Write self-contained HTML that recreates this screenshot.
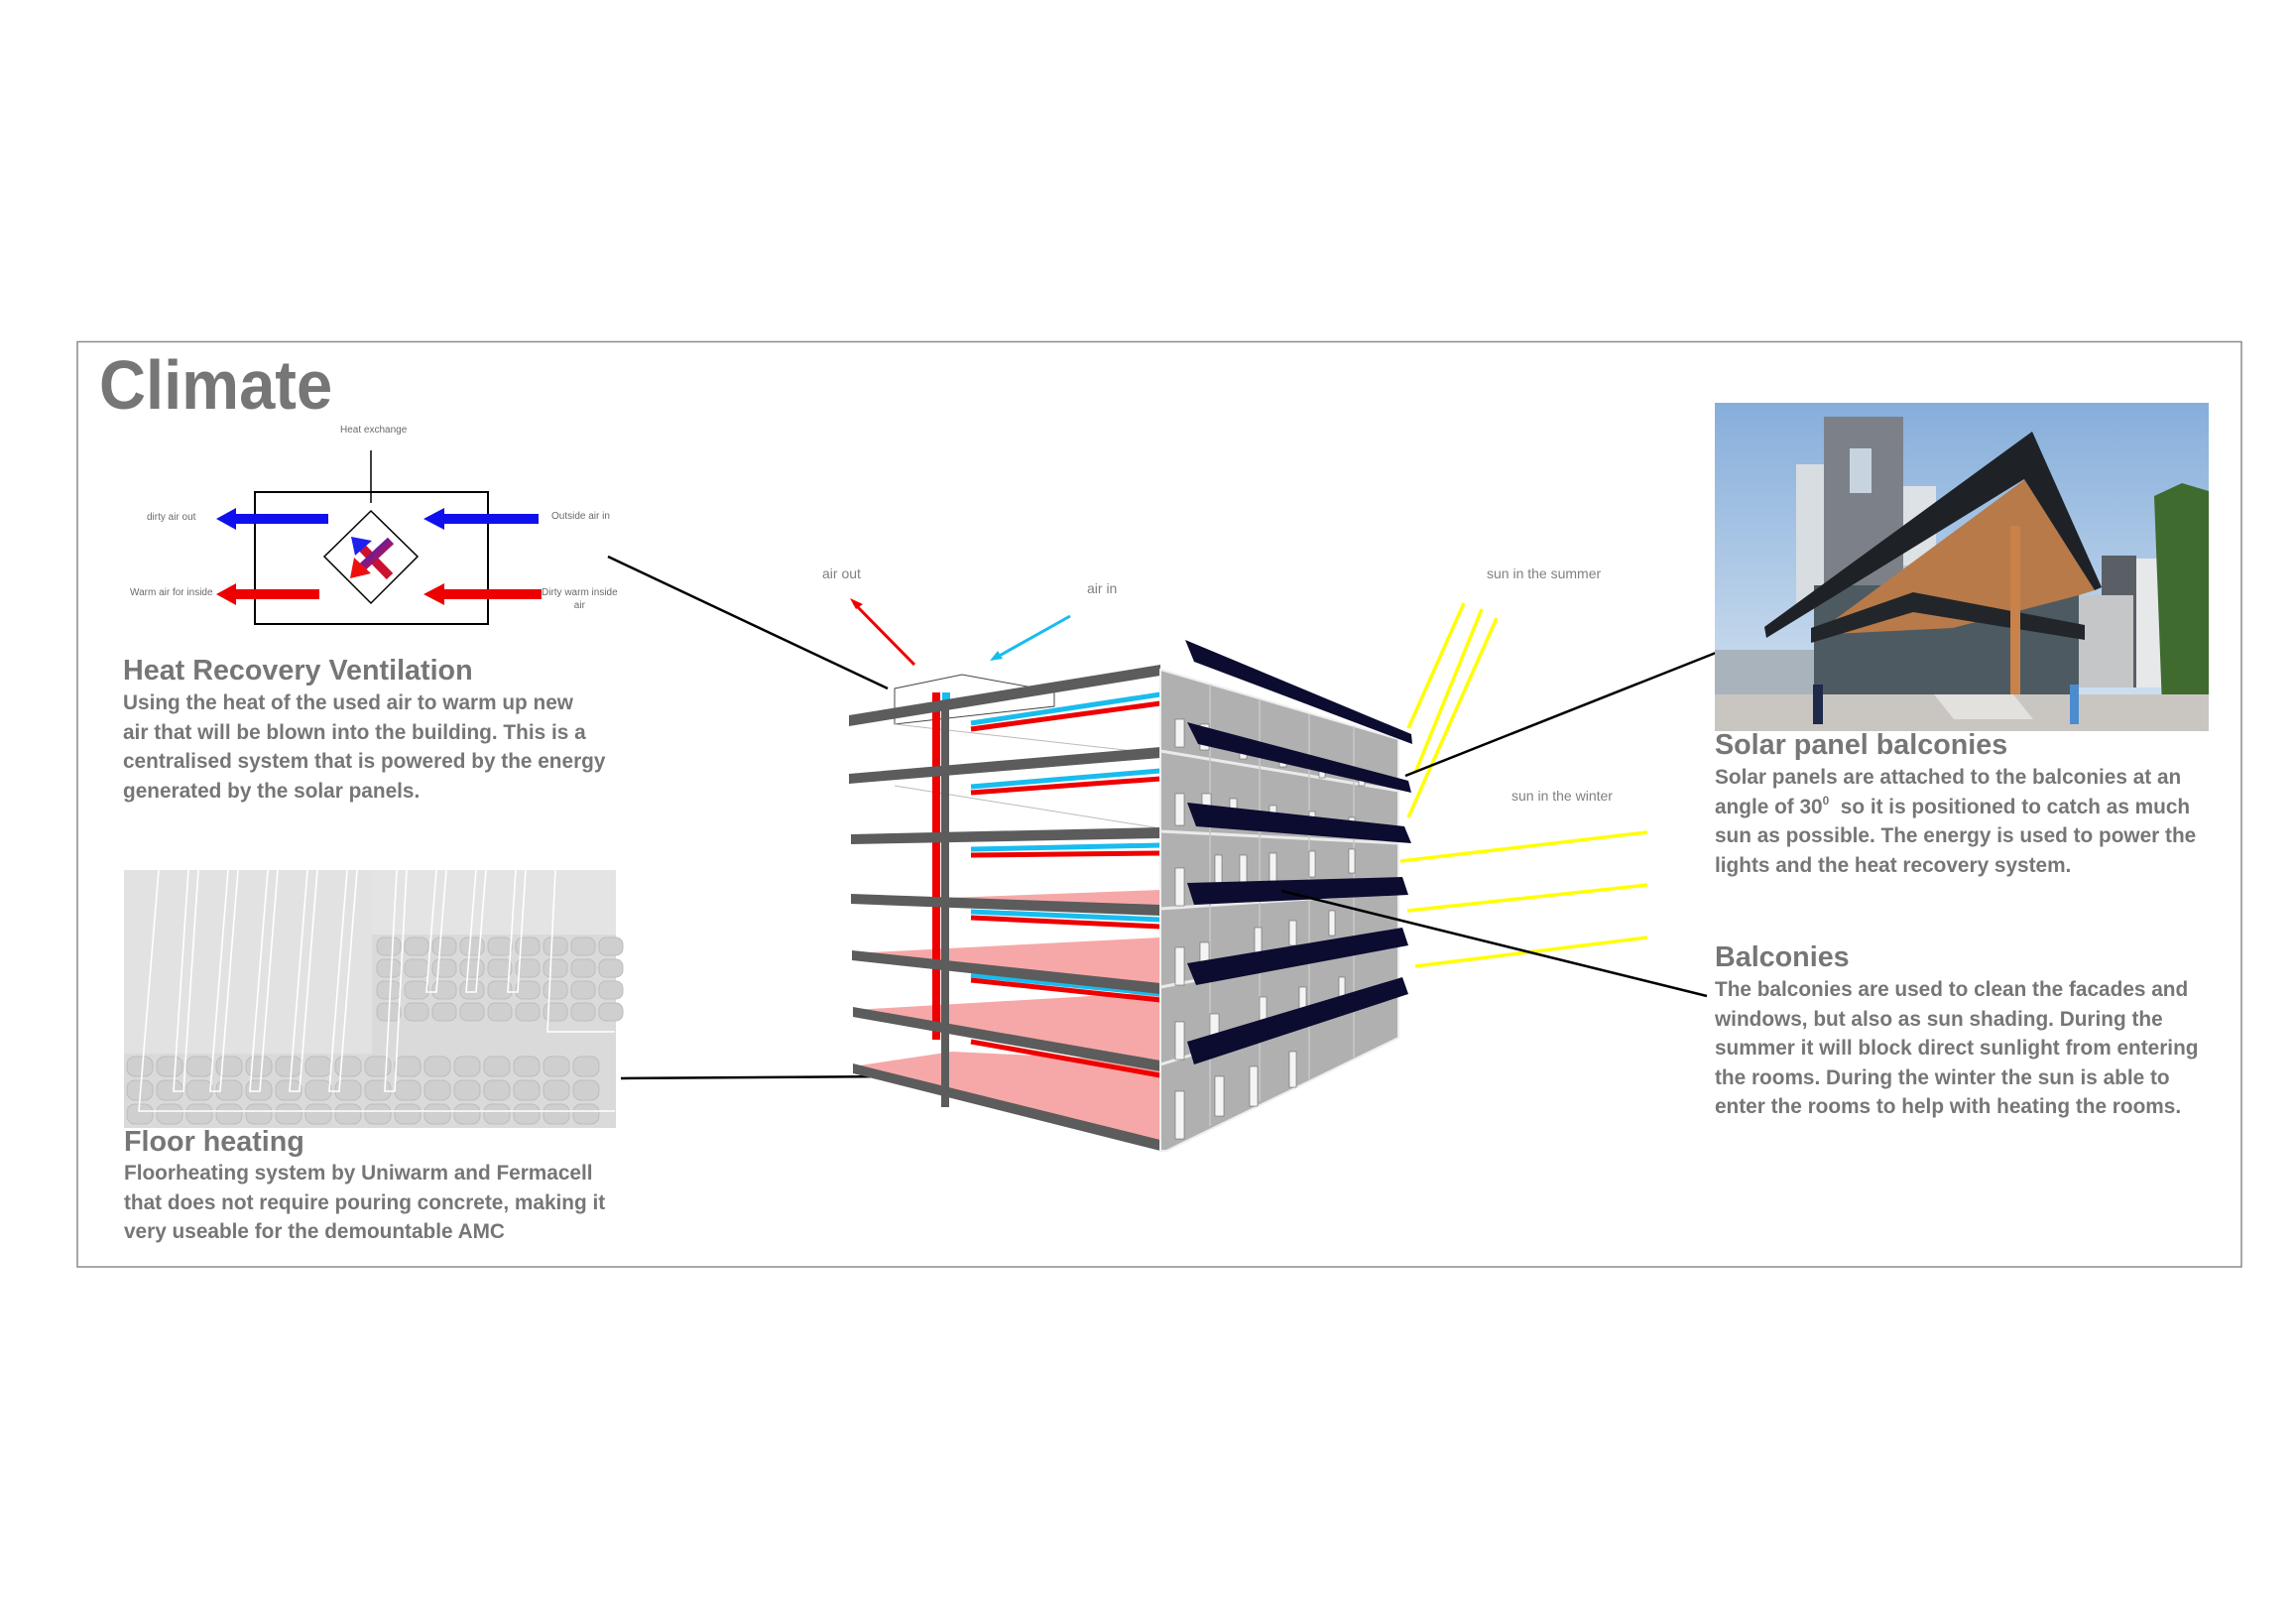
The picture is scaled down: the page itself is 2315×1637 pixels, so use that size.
<!DOCTYPE html>
<html><head><meta charset="utf-8"><style>
html,body{margin:0;padding:0;background:#fff;}
body{width:2315px;height:1637px;position:relative;overflow:hidden;font-family:"Liberation Sans",sans-serif;}
.t{position:absolute;color:#767676;font-weight:bold;white-space:nowrap;transform-origin:0 0;transform:scaleX(0.99);}
.h{font-size:29px;line-height:30px;}
.b{font-size:21px;line-height:29.6px;}
.s{position:absolute;color:#6a6a6a;font-size:10px;white-space:nowrap;}
.g{position:absolute;color:#808080;font-size:14px;white-space:nowrap;}
sup{font-size:12px;line-height:0;vertical-align:9px;}
</style></head><body>
<svg width="2315" height="1637" style="position:absolute;left:0;top:0">
<defs>
<linearGradient id="sky" x1="0" y1="0" x2="0" y2="1"><stop offset="0" stop-color="#86aedb"/><stop offset="1" stop-color="#d6e4f1"/></linearGradient>
<linearGradient id="xg" x1="0" y1="0" x2="1" y2="1"><stop offset="0" stop-color="#2020ee"/><stop offset="1" stop-color="#ee1010"/></linearGradient>
</defs>
<rect x="78" y="344.5" width="2182" height="932.5" fill="none" stroke="#8a8a8a" stroke-width="1.5"/>

<line x1="374" y1="454" x2="374" y2="507" stroke="#000" stroke-width="1.5"/>
<rect x="257" y="496" width="235" height="133" fill="none" stroke="#000" stroke-width="2"/>
<polygon points="374,515 421,561 374,608 327,561" fill="#fff" stroke="#000" stroke-width="1.5"/>
<g fill="#1010ee">
<polygon points="331,518 238,518 238,512 218,523 238,534 238,528 331,528"/>
<polygon points="543,518 448,518 448,512 427,523 448,534 448,528 543,528"/>
</g>
<g fill="#ee0000">
<polygon points="322,594 238,594 238,588 218,599 238,610 238,604 322,604"/>
<polygon points="546,594 448,594 448,588 427,599 448,610 448,604 546,604"/>
</g>
<line x1="393" y1="581" x2="364" y2="551" stroke="#cc1030" stroke-width="9"/>
<polygon points="354,541 375,545 358,560" fill="#2020ee"/>
<line x1="394" y1="545" x2="365" y2="572" stroke="url(#xg)" stroke-width="9"/>
<polygon points="353,583 357,562 374,578" fill="#ee1010"/>

<line x1="613" y1="561" x2="895" y2="694" stroke="#000" stroke-width="2.5"/>
<line x1="626" y1="1087" x2="1050" y2="1084" stroke="#000" stroke-width="2.5"/>

<rect x="125" y="877" width="496" height="260" fill="#dadada"/>
<rect x="125" y="877" width="250" height="185" fill="#e2e2e2"/>
<rect x="375" y="877" width="246" height="65" fill="#e4e4e4"/>
<g fill="#cfcfcf" stroke="#bdbdbd" stroke-width="1">
<g id="row">
<rect x="128" y="1065" width="26" height="20" rx="8"/><rect x="158" y="1065" width="26" height="20" rx="8"/><rect x="188" y="1065" width="26" height="20" rx="8"/><rect x="218" y="1065" width="26" height="20" rx="8"/><rect x="248" y="1065" width="26" height="20" rx="8"/><rect x="278" y="1065" width="26" height="20" rx="8"/><rect x="308" y="1065" width="26" height="20" rx="8"/><rect x="338" y="1065" width="26" height="20" rx="8"/><rect x="368" y="1065" width="26" height="20" rx="8"/><rect x="398" y="1065" width="26" height="20" rx="8"/><rect x="428" y="1065" width="26" height="20" rx="8"/><rect x="458" y="1065" width="26" height="20" rx="8"/><rect x="488" y="1065" width="26" height="20" rx="8"/><rect x="518" y="1065" width="26" height="20" rx="8"/><rect x="548" y="1065" width="26" height="20" rx="8"/><rect x="578" y="1065" width="26" height="20" rx="8"/>
</g>
<use href="#row" y="24"/><use href="#row" y="48"/>
<g id="r2" transform="translate(252,0)">
<rect x="128" y="945" width="24" height="18" rx="7"/><rect x="156" y="945" width="24" height="18" rx="7"/><rect x="184" y="945" width="24" height="18" rx="7"/><rect x="212" y="945" width="24" height="18" rx="7"/><rect x="240" y="945" width="24" height="18" rx="7"/><rect x="268" y="945" width="24" height="18" rx="7"/><rect x="296" y="945" width="24" height="18" rx="7"/><rect x="324" y="945" width="24" height="18" rx="7"/><rect x="352" y="945" width="24" height="18" rx="7"/>
</g>
<use href="#r2" y="22"/><use href="#r2" y="44"/><use href="#r2" y="66"/>
</g>
<g stroke="#fff" stroke-width="1.6" fill="none">
<path d="M160,877 L140,1120 L620,1120"/><path d="M190,877 L175,1100 L185,1100 L200,877"/><path d="M230,877 L212,1100 L222,1100 L240,877"/><path d="M270,877 L252,1100 L262,1100 L280,877"/><path d="M310,877 L292,1100 L302,1100 L320,877"/><path d="M350,877 L332,1100 L342,1100 L360,877"/><path d="M400,877 L388,1100 L398,1100 L410,877"/><path d="M440,877 L430,1000 L440,1000 L450,877"/><path d="M480,877 L470,1000 L480,1000 L490,877"/><path d="M520,877 L512,1000 L522,1000 L530,877"/><path d="M560,877 L552,1040 L620,1040"/>
</g>

<g>
<polygon points="902,694 970,680 1063,697 1063,712 902,730" fill="#fff" stroke="#444" stroke-width="1"/>
<polygon points="955,905 1170,897 1170,916 955,908" fill="#f6a8a8"/>
<polygon points="859,961 1170,945 1170,995 859,965" fill="#f6a8a8"/>
<polygon points="860,1018 1170,1000 1170,1073 860,1022" fill="#f6a8a8"/>
<polygon points="860,1075 960,1060 1170,1070 1170,1153 860,1079" fill="#f6a8a8"/>
<g stroke="#bbb" stroke-width="1"><line x1="902" y1="730" x2="1170" y2="760"/><line x1="902" y1="792" x2="1170" y2="835"/></g>
<g stroke-width="5">
<line x1="979" y1="729" x2="1170" y2="700" stroke="#19bcee"/><line x1="979" y1="735" x2="1170" y2="709" stroke="#ee0000"/>
<line x1="979" y1="793" x2="1170" y2="777" stroke="#19bcee"/><line x1="979" y1="799" x2="1170" y2="785" stroke="#ee0000"/>
<line x1="979" y1="856" x2="1170" y2="852" stroke="#19bcee"/><line x1="979" y1="862" x2="1170" y2="860" stroke="#ee0000"/>
<line x1="979" y1="919" x2="1170" y2="927" stroke="#19bcee"/><line x1="979" y1="925" x2="1170" y2="934" stroke="#ee0000"/>
<line x1="979" y1="983" x2="1170" y2="1002" stroke="#19bcee"/><line x1="979" y1="988" x2="1170" y2="1008" stroke="#ee0000"/>
<line x1="979" y1="1050" x2="1170" y2="1084" stroke="#ee0000"/>
</g>
<rect x="940" y="698" width="8" height="350" fill="#ee0000"/>
<rect x="950" y="698" width="8" height="10" fill="#19bcee"/>
<g fill="#5c5c5c">
<polygon points="856,721 1170,670 1170,681 856,732"/>
<polygon points="856,780 1170,753 1170,764 856,790"/>
<polygon points="858,841 1170,834 1170,845 858,851"/>
<polygon points="858,901 1170,912 1170,923 858,911"/>
<polygon points="859,958 1170,991 1170,1002 859,968"/>
<polygon points="860,1015 1170,1069 1170,1080 860,1025"/>
<polygon points="860,1072 1170,1149 1170,1160 860,1082"/>
</g>
<rect x="949" y="706" width="8" height="410" fill="#5c5c5c"/>
<polygon points="1170,675 1410,745 1410,1046 1176,1160 1170,1160" fill="#b0b0b0" stroke="#eee" stroke-width="2"/>
<g stroke="#eaeaea" stroke-width="3">
<line x1="1170" y1="757" x2="1410" y2="797"/><line x1="1170" y1="838" x2="1410" y2="850"/><line x1="1170" y1="916" x2="1410" y2="900"/><line x1="1170" y1="995" x2="1410" y2="950"/><line x1="1170" y1="1073" x2="1410" y2="1000"/>
</g>
<g stroke="#c8c8c8" stroke-width="1.5">
<line x1="1220" y1="690" x2="1220" y2="1135"/><line x1="1270" y1="705" x2="1270" y2="1110"/><line x1="1320" y1="720" x2="1320" y2="1088"/><line x1="1365" y1="732" x2="1365" y2="1066"/>
</g>
<g fill="#f4f4f4" stroke="#666" stroke-width="0.6">
<rect x="1185" y="725" width="9" height="28"/><rect x="1210" y="730" width="9" height="26"/><rect x="1250" y="745" width="7" height="20"/><rect x="1290" y="755" width="7" height="18"/><rect x="1330" y="768" width="6" height="16"/><rect x="1370" y="778" width="6" height="14"/>
<rect x="1185" y="800" width="9" height="32"/><rect x="1212" y="800" width="9" height="30"/><rect x="1240" y="805" width="7" height="22"/><rect x="1280" y="812" width="7" height="20"/><rect x="1320" y="818" width="6" height="18"/><rect x="1360" y="824" width="6" height="18"/>
<rect x="1185" y="875" width="9" height="38"/><rect x="1225" y="862" width="7" height="28"/><rect x="1250" y="862" width="7" height="28"/><rect x="1280" y="860" width="7" height="28"/><rect x="1320" y="858" width="6" height="26"/><rect x="1360" y="856" width="6" height="24"/>
<rect x="1185" y="955" width="9" height="38"/><rect x="1210" y="950" width="9" height="35"/><rect x="1265" y="935" width="7" height="25"/><rect x="1300" y="928" width="7" height="25"/><rect x="1340" y="918" width="6" height="25"/>
<rect x="1185" y="1030" width="9" height="38"/><rect x="1220" y="1022" width="9" height="36"/><rect x="1270" y="1005" width="7" height="28"/><rect x="1310" y="995" width="7" height="28"/><rect x="1350" y="985" width="6" height="25"/>
<rect x="1185" y="1100" width="9" height="48"/><rect x="1225" y="1085" width="9" height="40"/><rect x="1260" y="1075" width="8" height="40"/><rect x="1300" y="1060" width="7" height="36"/>
</g>
<g fill="#0c0c30">
<polygon points="1195,645 1423,740 1424,750 1204,667"/>
<polygon points="1197,728 1420,787 1423,799 1208,750"/>
<polygon points="1197,809 1416,833 1423,850 1206,833"/>
<polygon points="1197,890 1414,884 1420,902 1204,912"/>
<polygon points="1197,971 1414,935 1420,953 1206,993"/>
<polygon points="1197,1050 1414,985 1420,1002 1204,1073"/>
</g>
</g>

<line x1="922" y1="670" x2="861" y2="608" stroke="#ee0000" stroke-width="3"/>
<polygon points="857,603 870,609 863,614" fill="#ee0000"/>
<line x1="1079" y1="621" x2="1004" y2="663" stroke="#19bcee" stroke-width="3"/>
<polygon points="998,666 1006,656 1011,664" fill="#19bcee"/>

<g stroke="#ffff00" stroke-width="3.5">
<line x1="1476" y1="608" x2="1420" y2="734"/><line x1="1494" y1="614" x2="1427" y2="779"/><line x1="1509" y1="623" x2="1420" y2="824"/>
<line x1="1661" y1="839" x2="1412" y2="868"/><line x1="1661" y1="892" x2="1419" y2="918"/><line x1="1661" y1="945" x2="1427" y2="974"/>
</g>

<line x1="1730" y1="658" x2="1417" y2="782" stroke="#000" stroke-width="2.5"/>
<line x1="1721" y1="1004" x2="1292" y2="898" stroke="#000" stroke-width="2.5"/>

<rect x="1729" y="406" width="498" height="331" fill="url(#sky)"/>
<rect x="1811" y="468" width="32" height="140" fill="#d8dde2"/>
<rect x="1839" y="420" width="80" height="170" fill="#7c8189"/>
<rect x="1865" y="452" width="22" height="45" fill="#c7d4df"/>
<rect x="1919" y="490" width="33" height="80" fill="#dde2e6"/>
<rect x="2119" y="560" width="35" height="133" fill="#5a5f66"/>
<rect x="2154" y="563" width="42" height="130" fill="#e6e8ea"/>
<rect x="2096" y="600" width="55" height="93" fill="#c4c6c8"/>
<rect x="1829" y="590" width="267" height="113" fill="#4d5a62"/>
<polygon points="1829,640 2042,483 2112,595 2096,600 1969,633" fill="#b87a48"/>
<polygon points="1779,632 2049,435 2119,592 2112,595 2041,483 1781,643" fill="#1e2227"/>
<polygon points="1826,633 1929,597 2102,630 2102,645 1929,617 1826,648" fill="#22262b"/>
<rect x="2027" y="530" width="10" height="173" fill="#c8824a"/>
<polygon points="2172,500 2200,487 2227,495 2227,713 2180,713" fill="#3f6b2f"/>
<rect x="1729" y="655" width="100" height="45" fill="#a9b3bc"/>
<rect x="1729" y="700" width="498" height="37" fill="#c9c6c1"/>
<polygon points="1950,700 2030,700 2050,725 1970,725" fill="#e3e1dd"/>
<rect x="1828" y="690" width="10" height="40" fill="#1f2a4a"/>
<rect x="2087" y="690" width="9" height="40" fill="#4d8bcf"/>
</svg>

<div class="t" style="left:100px;top:348px;font-size:70px;line-height:80px;transform:scaleX(0.93)">Climate</div>

<div class="s" style="left:343px;top:428px">Heat exchange</div>
<div class="s" style="left:148px;top:516px">dirty air out</div>
<div class="s" style="left:556px;top:515px">Outside air in</div>
<div class="s" style="left:131px;top:592px">Warm air for inside</div>
<div class="s" style="left:546px;top:591px;text-align:center;line-height:13px">Dirty warm inside<br>air</div>

<div class="t h" style="left:124px;top:661px">Heat Recovery Ventilation</div>
<div class="t b" style="left:124px;top:694px">Using the heat of the used air to warm up new<br>air that will be blown into the building. This is a<br>centralised system that is powered by the energy<br>generated by the solar panels.</div>

<div class="t h" style="left:125px;top:1136px">Floor heating</div>
<div class="t b" style="left:125px;top:1168px">Floorheating system by Uniwarm and Fermacell<br>that does not require pouring concrete, making it<br>very useable for the demountable AMC</div>

<div class="g" style="left:829px;top:570px">air out</div>
<div class="g" style="left:1096px;top:585px">air in</div>
<div class="g" style="left:1499px;top:570px">sun in the summer</div>
<div class="g" style="left:1524px;top:794px">sun in the winter</div>

<div class="t h" style="left:1729px;top:736px">Solar panel balconies</div>
<div class="t b" style="left:1729px;top:769px">Solar panels are attached to the balconies at an<br>angle of 30<sup>0</sup>&nbsp; so it is positioned to catch as much<br>sun as possible. The energy is used to power the<br>lights and the heat recovery system.</div>

<div class="t h" style="left:1729px;top:950px">Balconies</div>
<div class="t b" style="left:1729px;top:983px">The balconies are used to clean the facades and<br>windows, but also as sun shading. During the<br>summer it will block direct sunlight from entering<br>the rooms. During the winter the sun is able to<br>enter the rooms to help with heating the rooms.</div>
</body></html>
